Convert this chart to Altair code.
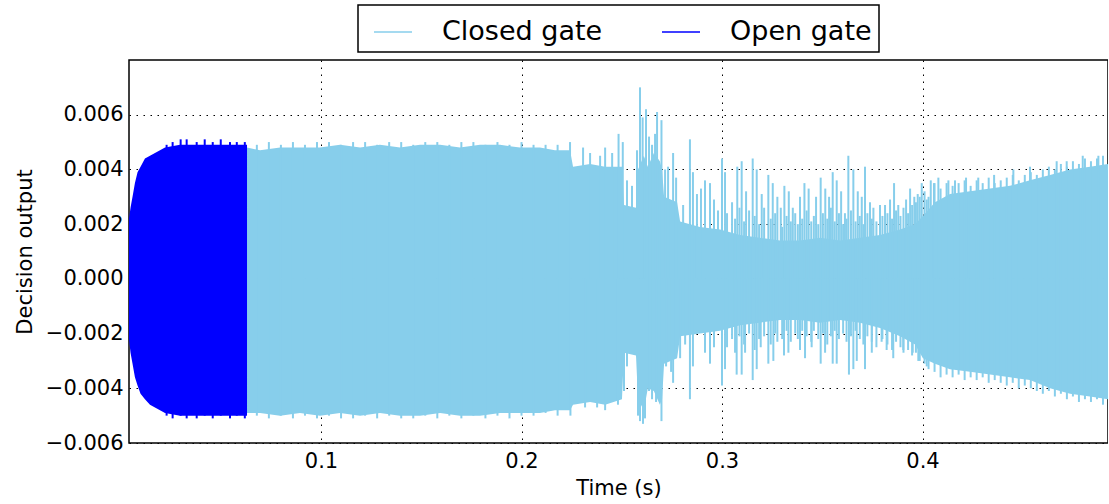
import altair as alt
import pandas as pd

FONT = "DejaVu Sans"
SERIES = ["Closed gate", "Open gate"]
COLORS = ["#87CEEB", "#0000FF"]

# ---- Open gate: envelope of the dense oscillation (time s, upper, lower)
open_t = [0.00424, 0.0050, 0.0060, 0.0072, 0.0085, 0.0100, 0.0122, 0.0147,
          0.0172, 0.0222, 0.0297, 0.0397, 0.0496, 0.0631]
open_hi = [0.0022, 0.0026, 0.0030, 0.0035, 0.0039, 0.0041, 0.0044, 0.0045,
           0.0046, 0.0048, 0.0049, 0.0049, 0.0049, 0.0049]
open_lo = [-0.0022, -0.0027, -0.0031, -0.0036, -0.0039, -0.0042, -0.0044, -0.0046,
           -0.0047, -0.0049, -0.0050, -0.0050, -0.0050, -0.0050]
# Open gate: ragged peaks along the edges
open_peak_t = [0.0230, 0.0260, 0.0300, 0.0330, 0.0380, 0.0420, 0.0460, 0.0500,
               0.0546, 0.0580, 0.0620]
open_peak_hi = [0.0049, 0.0050, 0.0051, 0.0051, 0.0050, 0.0051, 0.0050, 0.0051,
                0.0050, 0.0050, 0.0050]
open_peak_lo = [-0.0050, -0.0051, -0.0050, -0.0051, -0.0051, -0.0050, -0.0051, -0.0050,
                -0.0051, -0.0050, -0.0051]

# ---- Closed gate: envelope of the dense oscillation
closed_t = [0.0631, 0.0696, 0.0796, 0.0895, 0.0995, 0.1095, 0.1195, 0.1294, 0.1394,
            0.1494, 0.1594, 0.1693, 0.1793, 0.1893, 0.1992, 0.2092, 0.2167, 0.2242,
            0.2257, 0.2342, 0.2417, 0.2501, 0.2511, 0.2571, 0.2581, 0.2610, 0.2630,
            0.2660, 0.2690, 0.2701, 0.2711, 0.2776, 0.2791, 0.2890, 0.2990, 0.3090,
            0.3189, 0.3289, 0.3389, 0.3489, 0.3589, 0.3688, 0.3788, 0.3888, 0.3963,
            0.4002, 0.4062, 0.4137, 0.4237, 0.4337, 0.4436, 0.4536, 0.4636, 0.4736,
            0.4835, 0.4925]
closed_hi = [0.0048, 0.0047, 0.0048, 0.0048, 0.0048, 0.0049, 0.0048, 0.0049, 0.0048,
             0.0049, 0.0049, 0.0048, 0.0049, 0.0049, 0.0048, 0.0048, 0.0047, 0.0047,
             0.0041, 0.0042, 0.0041, 0.0041, 0.0027, 0.0026, 0.0040, 0.0045, 0.0041,
             0.0046, 0.0043, 0.0040, 0.0030, 0.0028, 0.0021, 0.0019, 0.0018, 0.0016,
             0.0015, 0.0014, 0.0014, 0.0015, 0.0014, 0.0015, 0.0016, 0.0018, 0.0020,
             0.0023, 0.0028, 0.0031, 0.0032, 0.0033, 0.0034, 0.0036, 0.0038, 0.0040,
             0.0041, 0.0042]
closed_lo = [-0.0049, -0.0049, -0.0050, -0.0049, -0.0050, -0.0049, -0.0050, -0.0049, -0.0050,
             -0.0050, -0.0049, -0.0050, -0.0050, -0.0049, -0.0049, -0.0049, -0.0048, -0.0048,
             -0.0046, -0.0045, -0.0046, -0.0044, -0.0027, -0.0028, -0.0044, -0.0048, -0.0040,
             -0.0041, -0.0046, -0.0044, -0.0031, -0.0029, -0.0021, -0.0020, -0.0019, -0.0017,
             -0.0016, -0.0015, -0.0015, -0.0016, -0.0015, -0.0016, -0.0018, -0.0021, -0.0024,
             -0.0029, -0.0031, -0.0033, -0.0034, -0.0035, -0.0036, -0.0037, -0.0040, -0.0042,
             -0.0043, -0.0044]

# ---- Closed gate: tall individual peaks standing out of the envelope
closed_top_t = [0.2242, 0.2307, 0.2342, 0.2392, 0.2417, 0.2452, 0.2484, 0.2505, 0.2526, 0.2551,
                0.2576, 0.2591, 0.2604, 0.2621, 0.2636, 0.2651, 0.2666, 0.2676, 0.2698, 0.2716,
                0.2731, 0.2756, 0.2771, 0.2806, 0.2840, 0.2855, 0.2875, 0.2895, 0.2915, 0.2940,
                0.2960, 0.2980, 0.3000, 0.3015, 0.3076, 0.3098, 0.3120, 0.3153, 0.3173, 0.3198,
                0.3231, 0.3253, 0.3276, 0.3293, 0.3311, 0.3333, 0.3353, 0.3389, 0.3411, 0.3432,
                0.3469, 0.3492, 0.3515, 0.3534, 0.3552, 0.3572, 0.3594, 0.3613, 0.3630, 0.3655,
                0.3677, 0.3697, 0.3713, 0.3738, 0.3755, 0.3788, 0.3813, 0.3838, 0.3858, 0.3879,
                0.3918, 0.3938, 0.3959, 0.3976, 0.3996, 0.4021, 0.4041, 0.4057, 0.4079, 0.4129,
                0.4162, 0.4217, 0.4278, 0.4357, 0.4453, 0.4536, 0.4669, 0.4719, 0.4799, 0.4877]
closed_top_v = [0.0050, 0.0048, 0.0046, 0.0045, 0.0048, 0.0046, 0.0053, 0.0050, 0.0036, 0.0034,
                0.0047, 0.0070, 0.0059, 0.0062, 0.0052, 0.0049, 0.0053, 0.0061, 0.0058, 0.0040,
                0.0041, 0.0046, 0.0037, 0.0027, 0.0051, 0.0039, 0.0031, 0.0033, 0.0036, 0.0035,
                0.0029, 0.0025, 0.0044, 0.0039, 0.0041, 0.0043, 0.0032, 0.0044, 0.0040, 0.0031,
                0.0038, 0.0035, 0.0030, 0.0026, 0.0034, 0.0032, 0.0026, 0.0030, 0.0035, 0.0033,
                0.0030, 0.0037, 0.0033, 0.0030, 0.0039, 0.0036, 0.0032, 0.0024, 0.0045, 0.0040,
                0.0032, 0.0030, 0.0041, 0.0028, 0.0026, 0.0027, 0.0027, 0.0029, 0.0035, 0.0027,
                0.0029, 0.0033, 0.0030, 0.0031, 0.0035, 0.0029, 0.0036, 0.0035, 0.0037, 0.0036,
                0.0036, 0.0037, 0.0037, 0.0038, 0.0040, 0.0041, 0.0043, 0.0043, 0.0045, 0.0045]
closed_bot_t = [0.2244, 0.2317, 0.2377, 0.2417, 0.2481, 0.2511, 0.2526, 0.2581, 0.2591, 0.2606,
                0.2616, 0.2636, 0.2651, 0.2671, 0.2698, 0.2721, 0.2746, 0.2756, 0.2791, 0.2816,
                0.2840, 0.2855, 0.2915, 0.2940, 0.2960, 0.3000, 0.3015, 0.3073, 0.3098, 0.3115,
                0.3153, 0.3173, 0.3193, 0.3231, 0.3256, 0.3276, 0.3309, 0.3331, 0.3389, 0.3414,
                0.3447, 0.3492, 0.3514, 0.3552, 0.3572, 0.3633, 0.3655, 0.3672, 0.3713, 0.3747,
                0.3796, 0.3821, 0.3854, 0.3904, 0.3951, 0.3979, 0.4021]
closed_bot_v = [-0.0050, -0.0047, -0.0047, -0.0048, -0.0046, -0.0041, -0.0032, -0.0050, -0.0052, -0.0053,
                -0.0051, -0.0041, -0.0044, -0.0045, -0.0052, -0.0032, -0.0034, -0.0038, -0.0029, -0.0024,
                -0.0044, -0.0032, -0.0027, -0.0031, -0.0025, -0.0039, -0.0033, -0.0035, -0.0035, -0.0027,
                -0.0037, -0.0033, -0.0025, -0.0031, -0.0030, -0.0023, -0.0028, -0.0027, -0.0026, -0.0029,
                -0.0025, -0.0031, -0.0027, -0.0031, -0.0031, -0.0035, -0.0033, -0.0030, -0.0033, -0.0027,
                -0.0023, -0.0026, -0.0029, -0.0026, -0.0027, -0.0030, -0.0032]

# ---- Closed gate: medium peaks filling the 0.30-0.40 s stretch
closed_mid_t = [0.3025, 0.3050, 0.3065, 0.3087, 0.3110, 0.3135, 0.3163, 0.3185, 0.3210, 0.3243,
                0.3265, 0.3300, 0.3322, 0.3343, 0.3365, 0.3378, 0.3400, 0.3422, 0.3445, 0.3458,
                0.3480, 0.3503, 0.3525, 0.3543, 0.3562, 0.3583, 0.3604, 0.3621, 0.3643, 0.3666,
                0.3687, 0.3705, 0.3725, 0.3747, 0.3770, 0.3800, 0.3825, 0.3848, 0.3868, 0.3890,
                0.3905, 0.3928, 0.3948, 0.3967, 0.3986, 0.4010]
closed_mid_hi = [0.0024, 0.0028, 0.0022, 0.0026, 0.0021, 0.0025, 0.0023, 0.0020, 0.0026, 0.0022,
                 0.0024, 0.0019, 0.0023, 0.0021, 0.0024, 0.0020, 0.0022, 0.0025, 0.0021, 0.0023,
                 0.0020, 0.0024, 0.0022, 0.0026, 0.0021, 0.0024, 0.0020, 0.0022, 0.0025, 0.0021,
                 0.0023, 0.0020, 0.0024, 0.0022, 0.0021, 0.0023, 0.0024, 0.0022, 0.0025, 0.0023,
                 0.0026, 0.0024, 0.0027, 0.0028, 0.0030, 0.0032]
closed_mid_lo = [-0.0025, -0.0022, -0.0027, -0.0021, -0.0024, -0.0020, -0.0026, -0.0022, -0.0021, -0.0024,
                 -0.0020, -0.0022, -0.0019, -0.0023, -0.0020, -0.0022, -0.0019, -0.0021, -0.0023, -0.0019,
                 -0.0022, -0.0020, -0.0024, -0.0021, -0.0019, -0.0022, -0.0020, -0.0023, -0.0021, -0.0019,
                 -0.0022, -0.0024, -0.0021, -0.0023, -0.0025, -0.0022, -0.0024, -0.0026, -0.0023, -0.0025,
                 -0.0027, -0.0026, -0.0028, -0.0027, -0.0030, -0.0031]

# ---- Closed gate: ragged teeth along the edges of the steady stretches
closed_edge_t = [0.068, 0.074, 0.080, 0.086, 0.092, 0.098, 0.104, 0.110, 0.116, 0.122,
                 0.128, 0.134, 0.140, 0.146, 0.152, 0.158, 0.164, 0.170, 0.176, 0.182,
                 0.188, 0.194, 0.200, 0.206, 0.212, 0.218,
                 0.4030, 0.4060, 0.4090, 0.4120, 0.4150, 0.4180, 0.4210, 0.4240, 0.4270, 0.4300,
                 0.4330, 0.4360, 0.4390, 0.4420, 0.4450, 0.4480, 0.4510, 0.4540, 0.4570, 0.4600,
                 0.4630, 0.4660, 0.4690, 0.4720, 0.4750, 0.4780, 0.4810, 0.4840, 0.4870, 0.4900]
closed_edge_hi = [0.0049, 0.0050, 0.0049, 0.0050, 0.0049, 0.0050, 0.0050, 0.0049, 0.0050, 0.0050,
                  0.0049, 0.0050, 0.0050, 0.0049, 0.0050, 0.0050, 0.0049, 0.0050, 0.0050, 0.0049,
                  0.0050, 0.0049, 0.0050, 0.0049, 0.0049, 0.0049,
                  0.0030, 0.0035, 0.0033, 0.0035, 0.0034, 0.0035, 0.0036, 0.0034, 0.0036, 0.0035,
                  0.0037, 0.0035, 0.0036, 0.0037, 0.0038, 0.0036, 0.0038, 0.0039, 0.0038, 0.0040,
                  0.0041, 0.0040, 0.0042, 0.0041, 0.0043, 0.0042, 0.0044, 0.0043, 0.0044, 0.0045]
closed_edge_lo = [-0.0050, -0.0051, -0.0050, -0.0051, -0.0050, -0.0051, -0.0050, -0.0051, -0.0051, -0.0050,
                  -0.0051, -0.0050, -0.0051, -0.0051, -0.0050, -0.0051, -0.0050, -0.0051, -0.0050, -0.0051,
                  -0.0050, -0.0051, -0.0050, -0.0050, -0.0049, -0.0050,
                  -0.0033, -0.0034, -0.0036, -0.0035, -0.0036, -0.0035, -0.0037, -0.0036, -0.0037, -0.0036,
                  -0.0038, -0.0037, -0.0038, -0.0039, -0.0038, -0.0040, -0.0039, -0.0040, -0.0041, -0.0042,
                  -0.0041, -0.0043, -0.0042, -0.0044, -0.0043, -0.0045, -0.0044, -0.0045, -0.0044, -0.0046]

x_ticks = [0.1, 0.2, 0.3, 0.4]
y_ticks = [-0.006, -0.004, -0.002, 0.0, 0.002, 0.004, 0.006]
x_domain = [0.00424, 0.4925]
y_domain = [-0.006, 0.008]

env = pd.concat([
    pd.DataFrame({"t": closed_t, "hi": closed_hi, "lo": closed_lo, "series": SERIES[0]}),
    pd.DataFrame({"t": open_t, "hi": open_hi, "lo": open_lo, "series": SERIES[1]}),
])
peaks = pd.concat([
    pd.DataFrame({"t": closed_top_t, "v": closed_top_v, "series": SERIES[0]}),
    pd.DataFrame({"t": closed_bot_t, "v": closed_bot_v, "series": SERIES[0]}),
    pd.DataFrame({"t": closed_mid_t, "v": closed_mid_hi, "series": SERIES[0]}),
    pd.DataFrame({"t": closed_mid_t, "v": closed_mid_lo, "series": SERIES[0]}),
    pd.DataFrame({"t": closed_edge_t, "v": closed_edge_hi, "series": SERIES[0]}),
    pd.DataFrame({"t": closed_edge_t, "v": closed_edge_lo, "series": SERIES[0]}),
    pd.DataFrame({"t": open_peak_t, "v": open_peak_hi, "series": SERIES[1]}),
    pd.DataFrame({"t": open_peak_t, "v": open_peak_lo, "series": SERIES[1]}),
])
peaks["zero"] = 0.0

xs = alt.Scale(domain=x_domain, nice=False, zero=False)
ys = alt.Scale(domain=y_domain, nice=False, zero=False)
cs = alt.Scale(domain=SERIES, range=COLORS)

xaxis = alt.Axis(values=x_ticks, format=".1f", title="Time (s)", labelPadding=7,
                 titlePadding=6)
yaxis = alt.Axis(values=y_ticks, format=".3f", title="Decision output", labelPadding=6,
                 titlePadding=10)

area_closed = alt.Chart(env[env.series == SERIES[0]]).mark_area(
    color=COLORS[0], clip=True, interpolate="linear"
).encode(
    x=alt.X("t:Q", scale=xs, axis=xaxis),
    y=alt.Y("hi:Q", scale=ys, axis=yaxis),
    y2="lo:Q",
)
area_open = alt.Chart(env[env.series == SERIES[1]]).mark_area(
    color=COLORS[1], clip=True, interpolate="linear"
).encode(
    x=alt.X("t:Q", scale=xs),
    y=alt.Y("hi:Q", scale=ys),
    y2="lo:Q",
)
rules = alt.Chart(peaks).mark_rule(strokeWidth=2, clip=True).encode(
    x=alt.X("t:Q", scale=xs),
    y=alt.Y("v:Q", scale=ys),
    y2="zero:Q",
    color=alt.Color(
        "series:N", scale=cs,
        legend=alt.Legend(
            title=None, orient="none", legendX=229, legendY=-55,
            direction="horizontal", symbolType="stroke", symbolSize=1444,
            symbolStrokeWidth=1.5, symbolOffset=8, labelOffset=29,
            labelFontSize=27, labelFont=FONT, labelColor="black", labelLimit=400,
            columnPadding=50, padding=7, strokeColor="black", fillColor="white",
        ),
    ),
)

chart = alt.layer(area_closed, area_open, rules).properties(
    width=979, height=383,
    padding={"left": 14, "top": 4, "right": 0, "bottom": 0},
).configure_view(
    stroke="black", strokeWidth=1.5,
).configure_axis(
    grid=True, gridColor="black", gridDash=[1.5, 5.5], gridWidth=1, gridOpacity=1,
    domain=False, ticks=False, labelFont=FONT, labelFontSize=21, labelColor="black",
    titleFont=FONT, titleFontSize=21, titleFontWeight="normal", titleColor="black",
    zindex=1,
).configure_legend(
    strokeWidth=1.5,
)

chart.save("out.html", embed_options={"renderer": "svg", "actions": False})
